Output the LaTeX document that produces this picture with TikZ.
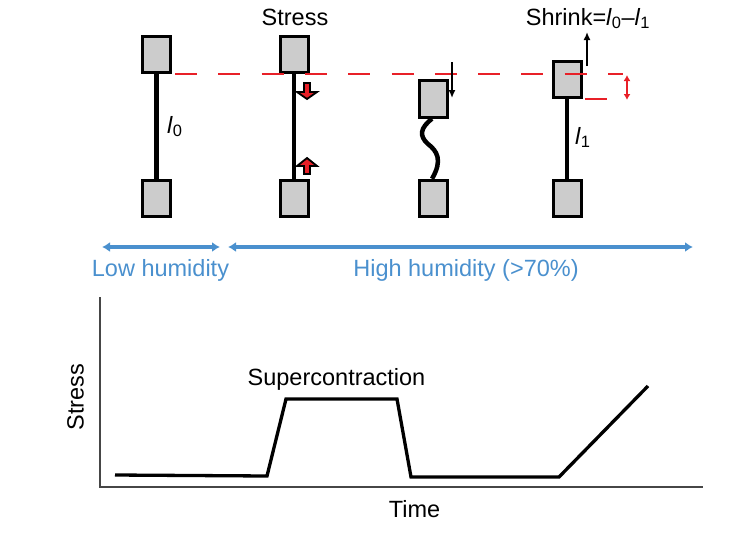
\documentclass[tikz,border=0pt]{standalone}
\usepackage{fontspec}
\setmainfont{Liberation Sans}
\usetikzlibrary{arrows.meta}
\definecolor{boxgray}{RGB}{204,204,204}
\definecolor{hblue}{RGB}{74,144,206}
\definecolor{dred}{RGB}{232,32,40}
\definecolor{axgray}{RGB}{70,70,70}
\tikzset{
  fbox/.style={draw=black, fill=boxgray, line width=3pt, minimum width=28pt, minimum height=36.5pt, inner sep=0pt},
  fiber/.style={line width=4.5pt},
  lbl/.style={font=\fontsize{23.5}{28}\selectfont, inner sep=0pt},
  reddash/.style={dred, line width=2.8pt, dash pattern=on 22pt off 21.3pt},
  redarr/.style={dred, line width=2.2pt, {Latex[length=6pt,width=7pt]}-{Latex[length=6pt,width=7pt]}},
  blkarr/.style={black, line width=2pt, -{Latex[length=8pt,width=7pt]}},
  blockarr/.style={fill=dred, draw=black, line width=1.8pt, line join=miter},
  harrow/.style={hblue, line width=3.8pt, {Latex[length=8pt,width=10pt]}-{Latex[length=8pt,width=10pt]}},
  axis/.style={axgray, line width=2.2pt},
  curve/.style={black, line width=3.3pt}
}
\begin{document}
\begin{tikzpicture}[x=1pt,y=-1pt]
\useasboundingbox (0,0) rectangle (755,544);
% fibres
\node[fbox] (t1) at (156.5,54.5) {};
\node[fbox] (b1) at (156.5,198.5) {};
\node[fbox] (t2) at (294,54.5) {};
\node[fbox] (b2) at (294,198.5) {};
\node[fbox] (t3) at (433,99) {};
\node[fbox] (b3) at (433,198.5) {};
\node[fbox] (t4) at (567,79.5) {};
\node[fbox] (b4) at (567,198.5) {};
\draw[fiber] (t1.south) -- (b1.north);
\draw[fiber] (t2.south) -- (b2.north);
\draw[fiber] ([xshift=-1pt]t3.south) .. controls (420,128) and (419,136) .. (428,144) .. controls (437,151) and (443,160) .. ([xshift=-1pt]b3.north);
\draw[fiber] (t4.south) -- (b4.north);
% red dashed reference lines (over the boxes)
\coordinate (d1) at (175,74);
\coordinate (d2) at (623,74);
\draw[reddash] (d1) -- (d2);
\coordinate (e1) at (585,99);
\coordinate (e2) at (607,99);
\draw[reddash] (e1) -- (e2);
\coordinate (r1) at (627,75);
\coordinate (r2) at (627,100);
\draw[redarr] (r1) -- (r2);
% red block arrows on fibre 2
\draw[blockarr] (304,83) -- (310,83) -- (310,92) -- (317,92) -- (307,99) -- (297,92) -- (304,92) -- cycle;
\draw[blockarr] (304,174) -- (310,174) -- (310,166) -- (317,166) -- (307,158) -- (297,166) -- (304,166) -- cycle;
% black arrows
\coordinate (k1) at (452,62);
\coordinate (k2) at (452,98);
\draw[blkarr] (k1) -- (k2);
\coordinate (m1) at (587,66);
\coordinate (m2) at (587,32);
\draw[blkarr] (m1) -- (m2);
% labels top
\node[lbl, anchor=base] (stresstop) at (295,25) {Stress};
\node[lbl, anchor=base] (shrink) at (588,25) {Shrink=\textit{l}\textsubscript{0}–\textit{l}\textsubscript{1}};
\node[lbl, anchor=base west] (l0) at (167,133) {\textit{l}\textsubscript{0}};
\node[lbl, anchor=base west] (l1) at (575,144) {\textit{l}\textsubscript{1}};
% humidity arrows
\coordinate (la) at (102,247);
\coordinate (lb) at (220,247);
\coordinate (ha) at (228,247);
\coordinate (hb) at (693,247);
\draw[harrow] (la) -- (lb);
\draw[harrow] (ha) -- (hb);
\node[lbl, anchor=base, text=hblue] (low) at (160.5,276) {Low humidity};
\node[lbl, anchor=base, text=hblue] (high) at (466,276) {High humidity (>70\%)};
% graph
\coordinate (ytop) at (100,297);
\coordinate (orig) at (100,487);
\coordinate (xend) at (703,487);
\draw[axis] (ytop) -- (orig) -- (xend);
\draw[curve] (115,475) -- (267,476) -- (286,399) -- (397,399) -- (411,477) -- (559,477) -- (648,386);
\node[lbl, anchor=base] (super) at (336.5,385) {Supercontraction};
\node[lbl, anchor=base] (time) at (414.5,517) {Time};
\node[lbl, anchor=base, rotate=90] (stressy) at (83.5,397) {Stress};
\end{tikzpicture}
\end{document}
